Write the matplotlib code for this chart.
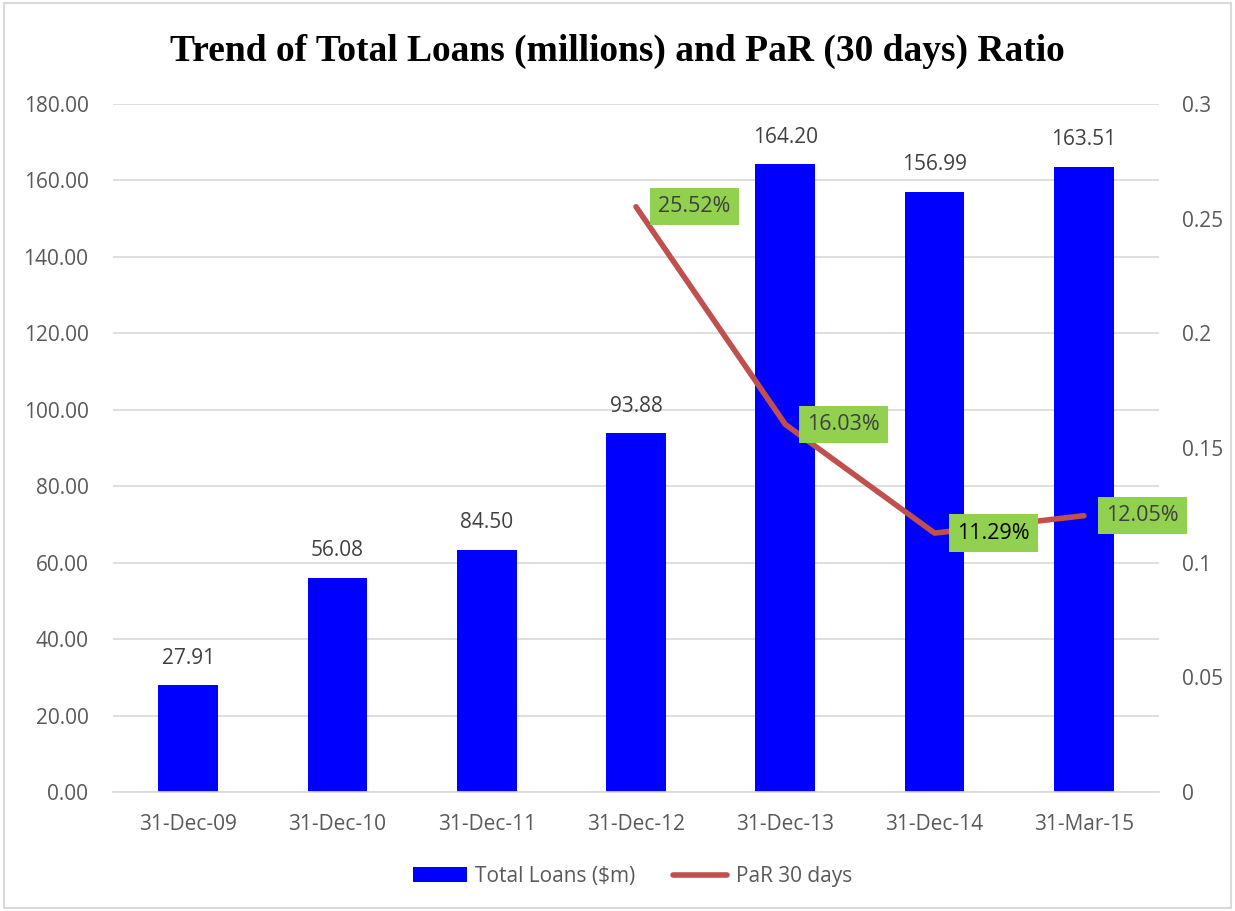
import matplotlib
matplotlib.use('Agg')
import matplotlib.pyplot as plt
import numpy as np
from matplotlib.patches import Rectangle

# data
dates = ['31-Dec-09', '31-Dec-10', '31-Dec-11', '31-Dec-12', '31-Dec-13', '31-Dec-14', '31-Mar-15']
loans = [27.91, 56.08, 63.4, 93.88, 164.20, 156.99, 163.51]   # bar heights as drawn
loan_labels = ['27.91', '56.08', '84.50', '93.88', '164.20', '156.99', '163.51']
par_dates = ['31-Dec-12', '31-Dec-13', '31-Dec-14', '31-Mar-15']
par30 = [0.2552, 0.1603, 0.1129, 0.1205]

plt.rcParams['font.family'] = ['Open Sans', 'DejaVu Sans']

BLUE = '#0000ff'
RED = '#c0504d'
GREEN = '#92d050'
GRID = '#d9d9d9'
TXT = '#595959'
FS = 15

fig = plt.figure(figsize=(12.35, 9.11), dpi=100)
ax = fig.add_axes([0.0919, 0.1306, 0.8462, 0.7552])
ax2 = ax.twinx()

x = np.arange(len(dates))
bars = ax.bar(x, loans, width=0.4, color=BLUE, label='Total Loans ($m)', zorder=2)
for xi, h, lab in zip(x, loans, loan_labels):
    ax.annotate(lab, (xi, h), xytext=(0, 12), textcoords='offset points',
                ha='center', va='bottom', fontsize=FS, color='#404040')

ax.set_ylim(0, 180)
ax.set_yticks(np.arange(0, 181, 20))
ax.set_yticklabels([f'{v:.2f}' for v in np.arange(0, 181, 20)])
ax.set_xlim(-0.5, len(dates) - 0.5)
ax.set_xticks(x)
ax.set_xticklabels(dates)
ax.grid(axis='y', color=GRID, lw=1.2, zorder=0)
ax.set_axisbelow(True)
for s in ['top', 'left', 'right']:
    ax.spines[s].set_visible(False)
ax.spines['bottom'].set_color(GRID)
ax.spines['bottom'].set_linewidth(1.2)
ax.tick_params(axis='both', length=0, labelsize=FS, labelcolor=TXT)
ax.tick_params(axis='x', pad=16)
ax.tick_params(axis='y', pad=18)

px = [dates.index(d) for d in par_dates]
line, = ax2.plot(px, par30, color=RED, lw=4, solid_capstyle='round', label='PaR 30 days', zorder=3)
for xi, v in zip(px, par30):
    c = '#000000' if abs(v - 0.1129) < 1e-6 else '#404040'
    ax2.annotate(f'{v*100:.2f}%', (xi, v), xytext=(16, 0), textcoords='offset points',
                 ha='left', va='center', fontsize=FS + 0.5, color=c,
                 bbox=dict(boxstyle='square,pad=0.38', facecolor=GREEN, edgecolor='none'))
ax2.set_ylim(0, 0.3)
ax2.set_yticks([0, 0.05, 0.1, 0.15, 0.2, 0.25, 0.3])
ax2.set_yticklabels(['0', '0.05', '0.1', '0.15', '0.2', '0.25', '0.3'])
for s in ax2.spines.values():
    s.set_visible(False)
ax2.tick_params(axis='y', length=0, labelsize=FS, labelcolor=TXT, pad=17)

fig.suptitle('Trend of Total Loans (millions) and PaR (30 days) Ratio',
             fontsize=27, fontweight='bold', family='Liberation Serif',
             y=0.943, va='center')

fig.legend([bars, line], ['Total Loans ($m)', 'PaR 30 days'], loc='center',
           bbox_to_anchor=(0.512, 0.038), ncol=2, frameon=False, fontsize=FS,
           labelcolor=TXT, handlelength=2.6, handletextpad=0.4, columnspacing=1.8)

fig.patches.append(Rectangle((0.003, 0.003), 0.994, 0.994, transform=fig.transFigure,
                             fill=False, edgecolor=GRID, lw=1.5))

fig.savefig('out.png', dpi=100)
